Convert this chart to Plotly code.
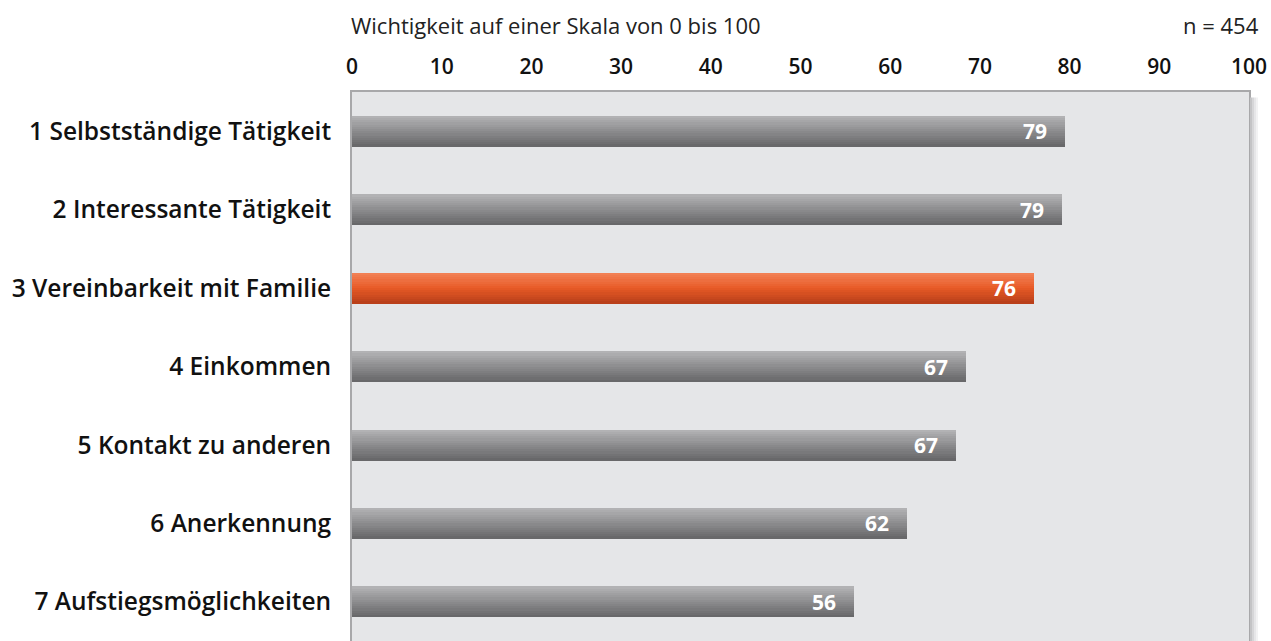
import plotly.graph_objects as go

categories = [
    "1 Selbstständige Tätigkeit",
    "2 Interessante Tätigkeit",
    "3 Vereinbarkeit mit Familie",
    "4 Einkommen",
    "5 Kontakt zu anderen",
    "6 Anerkennung",
    "7 Aufstiegsmöglichkeiten",
]
values = [79.5, 79.2, 76.0, 68.5, 67.3, 61.9, 56.0]
value_labels = ["79", "79", "76", "67", "67", "62", "56"]
highlight = [False, False, True, False, False, False, False]
tick_values = [0, 10, 20, 30, 40, 50, 60, 70, 80, 90, 100]

FONT = "Open Sans"

def lerp(c1, c2, t):
    return "#%02x%02x%02x" % tuple(int(round(a + (b - a) * t)) for a, b in zip(c1, c2))

gray_top, gray_mid, gray_bot = (178, 178, 180), (140, 140, 142), (104, 104, 106)
or_top, or_mid, or_bot = (242, 128, 84), (232, 90, 38), (186, 64, 26)

def grad(top, mid, bot, t):
    return lerp(top, mid, t * 2) if t < 0.5 else lerp(mid, bot, (t - 0.5) * 2)

fig = go.Figure()
n_bands = 14
w = 0.39
bw = w / n_bands
for i in range(n_bands):
    t = i / (n_bands - 1)
    cols = [grad(or_top, or_mid, or_bot, t) if h else grad(gray_top, gray_mid, gray_bot, t) for h in highlight]
    fig.add_trace(go.Bar(
        x=values, y=categories, orientation="h",
        width=bw * 1.15, offset=-w / 2 + i * bw,
        marker=dict(color=cols, line=dict(width=0)),
        hoverinfo="skip", showlegend=False,
    ))

for c, v, lab in zip(categories, values, value_labels):
    fig.add_annotation(x=v, y=c, text=lab, showarrow=False, xanchor="right", xshift=-16,
                       font=dict(family=FONT, size=21, color="white", weight=700))

fig.add_annotation(xref="paper", yref="paper", x=0, y=1, yshift=67, xanchor="left", yanchor="middle",
                   xshift=-3,
                   text="Wichtigkeit auf einer Skala von 0 bis 100", showarrow=False,
                   font=dict(family=FONT, size=22, color="#222"))
fig.add_annotation(xref="paper", yref="paper", x=1, y=1, yshift=67, xshift=12, xanchor="right", yanchor="middle",
                   text="n = 454", showarrow=False,
                   font=dict(family=FONT, size=22, color="#222"))

# soft shadow on the right edge of the panel
for k, col in enumerate(["#c4c4c6", "#d6d6d8", "#e6e6e8", "#f2f2f3"]):
    fig.add_shape(type="rect", xref="paper", yref="paper", xsizemode="pixel", xanchor=1,
                  x0=1 + k * 2, x1=3 + k * 2, y0=0, y1=0.99, line=dict(width=0), fillcolor=col,
                  layer="above")

fig.update_layout(
    width=1271, height=641,
    margin=dict(l=352, r=22, t=92, b=0),
    paper_bgcolor="white", plot_bgcolor="#e5e6e8",
    barmode="overlay", bargap=0,
    xaxis=dict(range=[0, 100], side="top", tickvals=tick_values, showgrid=False, zeroline=False,
               ticks="", ticklabelstandoff=8, automargin=False,
               tickfont=dict(family=FONT, size=21, color="#111", weight=600),
               showline=True, linecolor="#a8a8aa", linewidth=2, mirror=True, fixedrange=True),
    yaxis=dict(range=[6.5, -0.5], showgrid=False, ticks="", ticklabelstandoff=14, automargin=False,
               tickfont=dict(family=FONT, size=24.5, color="#111", weight=600),
               showline=True, linecolor="#a8a8aa", linewidth=2, mirror=True, fixedrange=True),
)

fig.write_html(
    "out.html",
    config={"displayModeBar": False},
    post_script="document.body.style.margin='0';document.body.style.overflow='hidden';",
)
